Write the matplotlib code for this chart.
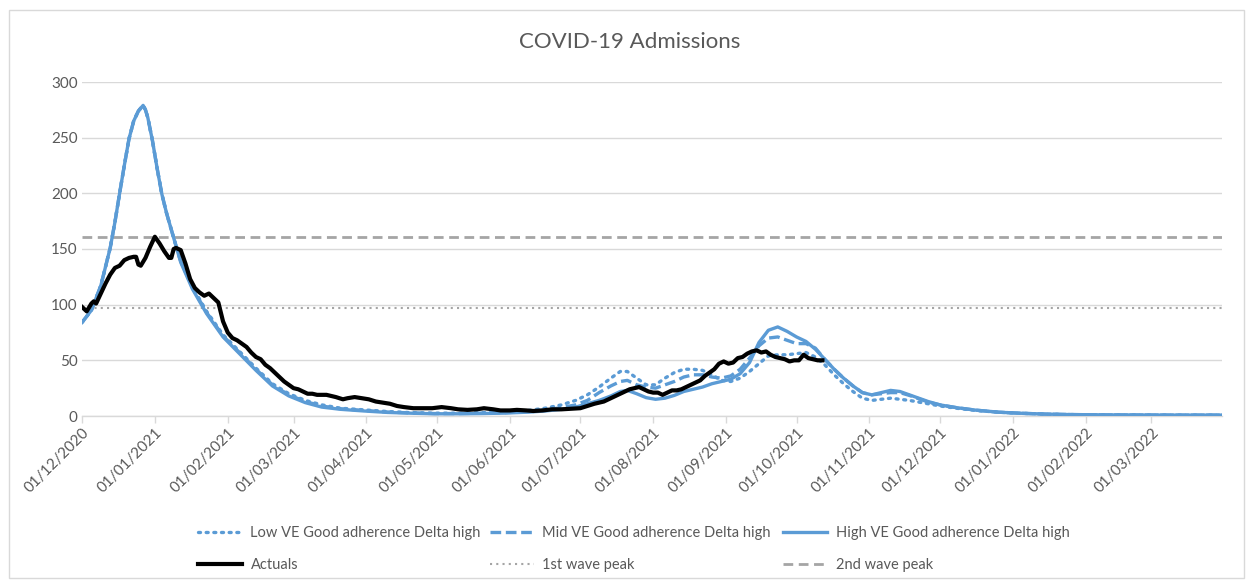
import matplotlib
matplotlib.use("Agg")
import matplotlib.pyplot as plt
import matplotlib.dates as mdates
from matplotlib.patches import Rectangle
import pandas as pd

plt.rcParams['font.family'] = ['Lato', 'DejaVu Sans']

start = pd.Timestamp('2020-12-01')
end = pd.Timestamp('2022-03-31')

# model series: day offsets from 01/12/2020
model_days = [0, 4, 8, 12, 14, 16, 18, 20, 22, 24, 26, 27, 28, 30, 32, 34, 36, 39, 42, 47, 53,
              60, 67, 74, 81, 88, 95, 102, 110, 120, 130, 140, 150, 160, 170, 180, 190, 197,
              204, 210, 215, 220, 225, 229, 232, 236, 240, 244, 248, 252, 256, 260, 264, 268,
              272, 276, 280, 284, 288, 292, 296, 300, 304, 308, 312, 316, 320, 324, 328, 332,
              336, 340, 344, 348, 352, 356, 360, 365, 372, 380, 390, 400, 410, 420, 435, 450,
              465, 485]

high_ve = [84, 95, 117, 151, 174, 200, 225, 249, 265, 274, 279, 275, 268, 247, 222, 199, 182, 160, 138, 114, 92,
           71, 56, 41, 27, 18, 12, 8, 6, 4.5, 3.2, 2.5, 2.0, 2.0, 2.2, 2.6, 3.5, 4.5,
           6, 8, 11, 14, 18, 22, 23, 20, 16.5, 15, 16, 18.5, 22, 24, 26, 29,
           31, 33, 38, 48, 66, 77, 80, 76, 71, 67, 60, 51, 42, 34, 27, 21,
           19, 21, 23, 22, 19, 16, 13, 10, 7.5, 5.3, 3.4, 2.4, 1.7, 1.3, 1.0, 0.9,
           0.8, 0.8]

mid_ve = [84, 95, 117, 151, 174, 200, 225, 249, 265, 274, 279, 275, 268, 247, 222, 199, 182, 160, 139, 115, 93,
          72, 57, 42, 28, 19, 13, 9, 6.5, 5, 3.5, 2.8, 2.2, 2.2, 2.5, 3, 4, 5.5,
          7.5, 10, 14, 21, 27, 31, 32, 28, 26, 25, 28, 31, 35, 37, 37, 35,
          34, 36, 42, 52, 63, 70, 71, 68, 65, 65, 61, 51, 42, 34, 27, 21,
          19, 20, 21, 21, 18.5, 15.5, 12.5, 10, 7.5, 5.3, 3.4, 2.4, 1.7, 1.3, 1.0, 0.9,
          0.8, 0.8]

low_ve = [84, 95, 117, 151, 174, 200, 225, 249, 265, 274, 279, 275, 268, 247, 222, 199, 182, 160, 139, 116, 94,
          73, 58, 43, 29, 20, 14, 10, 7, 5.5, 4, 3, 2.5, 2.5, 3, 3.5, 5, 7,
          10, 14, 19, 26, 34, 40, 40, 34, 28, 28, 34, 39, 42, 42, 41, 37,
          32, 31, 34, 40, 47, 54, 55, 55, 56, 57, 53, 46, 37, 29, 22, 16,
          14, 15, 16, 15, 14, 12.5, 11, 9, 7, 5, 3.4, 2.4, 1.7, 1.3, 1.0, 0.9,
          0.8, 0.8]

actual_days = [0, 2, 4, 5, 6, 8, 10, 12, 14, 16, 18, 20, 22, 23, 24, 25, 27, 29, 31, 33, 35, 37, 38, 39,
               40, 42, 44, 46, 48, 50, 52, 54, 56, 58, 60, 62, 64, 66, 68, 70, 72, 74, 76, 78, 80,
               82, 84, 86, 88, 90, 92, 94, 96, 98, 100, 104, 108, 111, 113, 116, 119, 122, 125, 128,
               131, 134, 137, 141, 145, 149, 153, 157, 160, 164, 168, 171, 175, 178, 182, 185, 189,
               192, 196, 200, 204, 208, 212, 215, 218, 220, 222, 225, 227, 229, 231, 233, 235, 237,
               239, 241, 243, 245, 247, 249, 251, 253, 255, 257, 259, 261, 263, 265, 267, 269, 271,
               273, 275, 277, 279, 281, 283, 285, 287, 289, 291, 293, 295, 297, 299, 301, 303, 305,
               307, 309, 311, 313, 315]
actuals = [98, 94, 101, 103, 101, 110, 119, 127, 133, 135, 140, 142, 143, 143, 136, 135, 142, 152, 161, 155, 148, 142, 142, 150,
           151, 149, 137, 123, 115, 111, 108, 110, 106, 102, 85, 75, 70, 68, 65, 62, 57, 53, 51, 46, 43,
           39, 35, 31, 28, 25, 24, 22, 20, 20, 19, 19, 17, 15, 16, 17, 16, 15, 13, 12,
           11, 9, 8, 7, 7, 7, 8, 7, 6, 5.5, 6, 7, 6, 5, 5, 5.5, 5,
           4.5, 5, 6, 6, 6.5, 7, 9, 11, 12, 13, 16, 18, 20, 22, 24, 25, 26,
           24, 22, 21, 21, 19, 21, 23, 23, 24, 26, 28, 30, 32, 36, 39, 42, 47,
           49, 47, 48, 52, 53, 56, 58, 59, 57, 58, 55, 53, 52, 51, 49, 50, 50,
           55, 52, 51, 50, 50]

first_wave_peak = 97
second_wave_peak = 161

y_ticks = [0, 50, 100, 150, 200, 250, 300]
month_ticks = pd.date_range('2020-12-01', '2022-03-01', freq='MS')

blue = '#5B9BD5'
grey_txt = '#595959'
grid_c = '#D9D9D9'

mdates_x = start + pd.to_timedelta(model_days, unit='D')
adates_x = start + pd.to_timedelta(actual_days, unit='D')

W, H = 1252, 582
fig = plt.figure(figsize=(W / 100, H / 100), dpi=100)
fig.patches.append(Rectangle((9 / W, 1 - 578 / H), 1235 / W, 568 / H,
                             transform=fig.transFigure, fill=False, edgecolor=grid_c, lw=1))
ax = fig.add_axes([82 / W, 1 - 416 / H, 1140 / W, 334 / H])

h_low, = ax.plot(mdates_x, low_ve, color=blue, lw=2.4, linestyle=(0, (0.6, 1.7)),
                 dash_capstyle='round', label='Low VE Good adherence Delta high', zorder=3)
h_mid, = ax.plot(mdates_x, mid_ve, color=blue, lw=2.4, linestyle=(0, (3.2, 1.4)),
                 label='Mid VE Good adherence Delta high', zorder=3)
h_high, = ax.plot(mdates_x, high_ve, color=blue, lw=2.4, label='High VE Good adherence Delta high', zorder=3)
h_act, = ax.plot(adates_x, actuals, color='black', lw=3, label='Actuals', zorder=4)
h_1st = ax.axhline(first_wave_peak, color='#A5A5A5', lw=1.5, linestyle=(0, (1, 2)), label='1st wave peak', zorder=2)
h_2nd = ax.axhline(second_wave_peak, color='#A5A5A5', lw=2, linestyle=(0, (3.5, 2)), label='2nd wave peak', zorder=2)

ax.set_xlim(start, end)
ax.set_ylim(0, 300)
ax.set_yticks(y_ticks)
ax.set_xticks(month_ticks)
ax.xaxis.set_major_formatter(mdates.DateFormatter('%d/%m/%Y'))
ax.grid(axis='y', color=grid_c, lw=1)
ax.set_axisbelow(True)
for s in ['top', 'right', 'left']:
    ax.spines[s].set_visible(False)
ax.spines['bottom'].set_color(grid_c)
ax.spines['bottom'].set_linewidth(1)
ax.tick_params(axis='y', length=0, pad=3, labelsize=11, labelcolor=grey_txt)
ax.tick_params(axis='x', length=5, width=1, color=grid_c, labelsize=11, labelcolor=grey_txt, pad=2)
for lbl in ax.get_xticklabels():
    lbl.set_rotation(45)
    lbl.set_ha('right')
    lbl.set_rotation_mode('anchor')

fig.text(0.503, 1 - 42 / H, 'COVID-19 Admissions', ha='center', va='center', fontsize=16, color=grey_txt)

# legend: three columns placed individually
columns = [([h_low, h_act], 198), ([h_mid, h_1st], 490), ([h_high, h_2nd], 783)]
for hs, xpx in columns:
    leg = fig.legend(handles=hs, labels=[h.get_label() for h in hs], ncol=1,
                     loc='upper left', bbox_to_anchor=(xpx / W, 1 - 526 / H),
                     frameon=False, fontsize=10.5, handlelength=3.0, handletextpad=0.6,
                     labelspacing=1.25, borderpad=0, borderaxespad=0)
    for t in leg.get_texts():
        t.set_color(grey_txt)

fig.savefig('out.png', dpi=100)
